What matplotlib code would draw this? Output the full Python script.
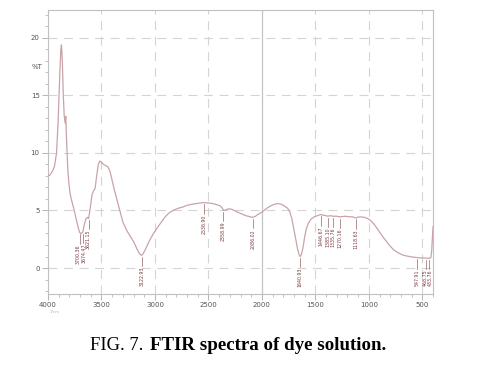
import numpy as np
import matplotlib
matplotlib.use("Agg")
import matplotlib.pyplot as plt
from matplotlib.ticker import MultipleLocator, FixedLocator

# ---- data ----
wavenumber = [4000, 3980, 3960, 3940, 3920, 3905, 3890, 3880, 3874, 3866, 3857, 3848, 3840, 3834,
              3826, 3815, 3805, 3794, 3780, 3760, 3740, 3720, 3705, 3690, 3675, 3660, 3645, 3630,
              3620, 3605, 3590, 3575, 3560, 3545, 3530, 3515, 3500, 3480, 3460, 3440, 3420, 3400,
              3380, 3360, 3340, 3320, 3300, 3280, 3260, 3240, 3220, 3200, 3180, 3160, 3140, 3125,
              3110, 3090, 3070, 3050, 3020, 3000, 2970, 2940, 2900, 2860, 2820, 2780, 2740, 2700,
              2650, 2600, 2550, 2500, 2460, 2420, 2390, 2370, 2358, 2340, 2310, 2280, 2250, 2200,
              2150, 2110, 2086, 2060, 2030, 2000, 1960, 1920, 1880, 1850, 1820, 1790, 1760, 1740,
              1720, 1700, 1680, 1665, 1650, 1641, 1630, 1615, 1600, 1585, 1565, 1540, 1510, 1480,
              1450, 1430, 1400, 1385, 1360, 1335, 1300, 1270, 1220, 1180, 1150, 1125, 1110, 1080,
              1040, 1010, 980, 950, 920, 890, 860, 830, 800, 770, 740, 710, 680, 650, 620, 590, 560,
              548, 520, 490, 469, 450, 434, 420, 412, 406, 400]
transmittance = [8.0, 8.1, 8.4, 8.8, 10.0, 12.8, 16.8, 19.0, 19.4, 18.0, 15.0, 13.2, 12.6, 13.2,
                 11.0, 8.6, 7.4, 6.5, 5.9, 5.2, 4.4, 3.6, 3.1, 3.0, 3.1, 3.8, 4.3, 4.4,
                 4.3, 5.2, 6.3, 6.7, 6.9, 8.0, 9.0, 9.3, 9.2, 9.0, 8.9, 8.8, 8.4, 7.6,
                 6.8, 6.1, 5.4, 4.7, 4.0, 3.6, 3.2, 2.9, 2.6, 2.3, 1.9, 1.5, 1.2, 1.1,
                 1.25, 1.6, 2.0, 2.4, 2.9, 3.2, 3.6, 4.0, 4.5, 4.85, 5.05, 5.2, 5.3, 5.45,
                 5.55, 5.62, 5.68, 5.66, 5.6, 5.5, 5.4, 5.2, 5.0, 5.05, 5.15, 5.1, 4.95, 4.75,
                 4.55, 4.45, 4.4, 4.5, 4.7, 4.85, 5.15, 5.4, 5.55, 5.6, 5.55, 5.4, 5.2, 4.9,
                 4.3, 3.3, 2.3, 1.6, 1.1, 1.0, 1.2, 1.8, 2.7, 3.4, 3.9, 4.25, 4.45, 4.55,
                 4.65, 4.6, 4.55, 4.5, 4.55, 4.5, 4.5, 4.45, 4.5, 4.45, 4.45, 4.35, 4.4, 4.45,
                 4.4, 4.3, 4.1, 3.8, 3.4, 3.0, 2.6, 2.25, 1.9, 1.6, 1.4, 1.25, 1.12, 1.05, 1.0, 0.95, 0.92,
                 0.9, 0.88, 0.87, 0.86, 0.85, 0.85, 0.9, 1.5, 2.6, 3.6]

peak_wn = [3700.36, 3674.47, 3621.15, 3122.93, 2536.90, 2358.99, 2086.02, 1640.93,
           1446.67, 1385.10, 1335.76, 1270.16, 1118.63, 547.91, 468.75, 433.76]
peak_labels = ["3700.36", "3674.47", "3621.15", "3122.93", "2536.90", "2358.99", "2086.02",
               "1640.93", "1446.67", "1385.10", "1335.76", "1270.16", "1118.63",
               "547.91", "468.75", "433.76"]

x_ticks = [4000, 3500, 3000, 2500, 2000, 1500, 1000, 500]
y_ticks = [0, 5, 10, 15, 20]

W, H = 488, 368
fig = plt.figure(figsize=(W / 100, H / 100), dpi=100)
fig.patch.set_facecolor("white")
ax = fig.add_axes([48 / W, 1 - 294 / H, (433 - 48) / W, (294 - 10) / H])

curve_col = "#c8a3a8"
lab_col = "#7a3e42"
grid_col = "#d4d4d4"

ax.set_xlim(4000, 400)
ax.set_ylim(-2.26, 22.43)

# grid
for xv in x_ticks:
    if xv == 2000:
        ax.axvline(xv, color="#c4c4c4", lw=0.9, zorder=1)
    elif xv != 4000:
        ax.axvline(xv, color=grid_col, lw=0.8, ls=(0, (8, 6)), zorder=1)
for yv in y_ticks:
    ax.axhline(yv, color=grid_col, lw=0.8, ls=(0, (8, 6)), zorder=1)

ax.plot(wavenumber, transmittance, color=curve_col, lw=0.9, zorder=3)

# peak annotations (labels of very close peaks are spread slightly apart)
spread = {"3700.36": 14, "3674.47": -14, "468.75": 4, "433.76": -6}
for wn, lab in zip(peak_wn, peak_labels):
    yc = float(np.interp(wn, wavenumber[::-1], transmittance[::-1]))
    ax.plot([wn, wn], [yc - 0.15, yc - 0.95], color=lab_col, lw=0.4, zorder=4)
    ax.text(wn + spread.get(lab, 0), yc - 1.0, lab, rotation=90, ha="center", va="top",
            fontsize=3.4, color=lab_col, zorder=4)

ax.xaxis.set_major_locator(FixedLocator(x_ticks))
ax.xaxis.set_minor_locator(MultipleLocator(100))
ax.yaxis.set_major_locator(FixedLocator(y_ticks))
ax.yaxis.set_minor_locator(MultipleLocator(1))
ax.set_xticklabels([str(v) for v in x_ticks])
ax.set_yticklabels([str(v) for v in y_ticks])
ax.tick_params(axis="both", which="major", labelsize=5, colors="#aaaaaa",
               labelcolor="#555555", length=4, width=0.6, direction="out", pad=2)
ax.tick_params(axis="both", which="minor", colors="#aaaaaa", length=2.5, width=0.5,
               direction="out")
for sp in ax.spines.values():
    sp.set_color("#c0c0c0")
    sp.set_linewidth(0.8)

ax.text(-0.029, (17.5 + 2.26) / (22.43 + 2.26), "%T", transform=ax.transAxes,
        ha="center", va="center", fontsize=5, color="#555555")
fig.text(50 / W, 1 - 312 / H, "1/cm", fontsize=3, color="#bbbbbb", ha="left", va="center")

# caption
fig.text(90 / W, 1 - 350 / H, "FIG. 7.", fontsize=13.3, family="Liberation Serif",
         ha="left", va="baseline", color="black")
fig.text(150 / W, 1 - 350 / H, "FTIR spectra of dye solution.", fontsize=13.6,
         family="Liberation Serif", fontweight="bold", ha="left", va="baseline", color="black")

fig.savefig("out.png", dpi=100, facecolor="white")
